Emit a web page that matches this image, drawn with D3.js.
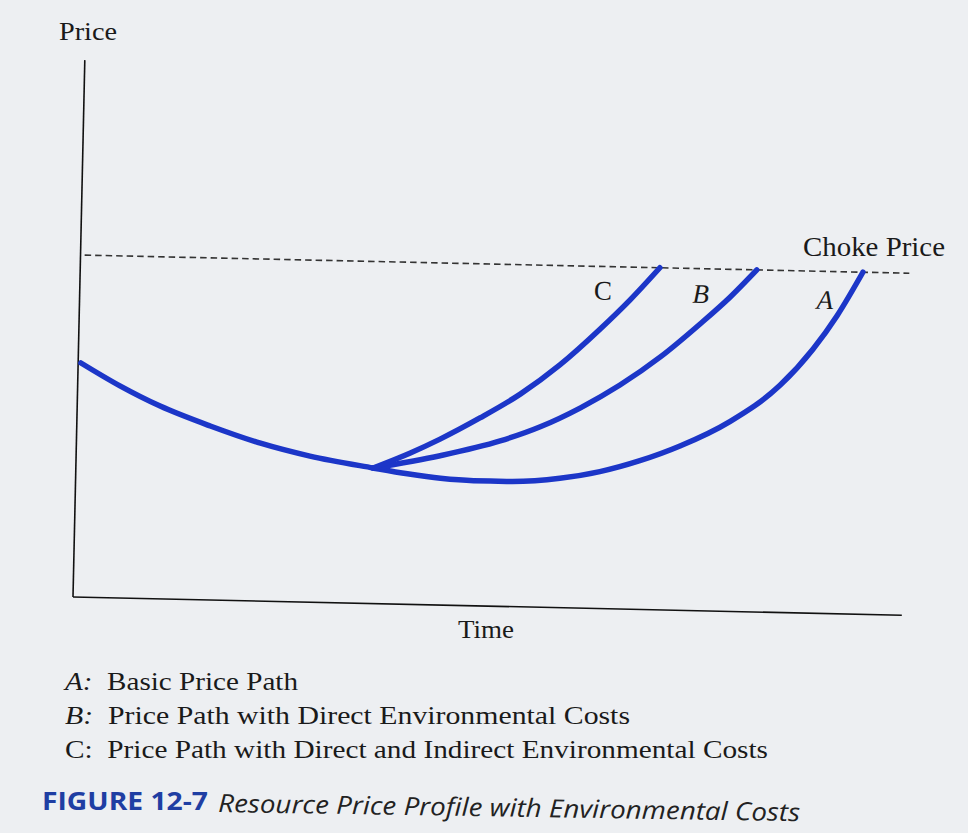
<!DOCTYPE html>
<html lang="en">
<head>
  <meta charset="UTF-8" />
  <title>Resource Price Profile with Environmental Costs</title>
  <script src="https://d3js.org/d3.v7.min.js"></script>
  <style>
    body{margin:0;background:#eceef1}
    svg{display:block}
    .serif{font-family:"Liberation Serif","DejaVu Serif",serif;fill:#1a1a1a}
    .caption{font-family:"Open Sans","Noto Sans",sans-serif}
  </style>
</head>
<body>
  <div id="chart"></div>

  <script>
    // shared segment before the paths split, [time, price]
    const commonPath = [[0.34, 43.6], [5.1, 39.5], [10, 35.9], [16.1, 32.4], [22.2, 29.4], [28.2, 27.2], [35.85, 25.25]];
    const pathA = [[35.85, 25.25], [40, 24.3], [44, 23.6], [48, 23.3], [52, 23.3], [58.4, 24.1], [63.2, 25.5], [68, 27.7], [72.8, 30.6], [78.8, 35.4], [84.7, 42.3], [88.6, 49.2], [91.4, 55.5], [94.4, 63.7]];
    const pathB = [[35.85, 25.25], [43.9, 27.8], [51.1, 30.8], [55.9, 33.6], [60.7, 37.3], [65.4, 41.7], [70.2, 47.1], [74.9, 53.4], [78.5, 58.6], [81.6, 63.7]];
    const pathC = [[35.85, 25.25], [40.3, 28.2], [43.85, 30.9], [48.6, 35], [53.4, 39.6], [58.1, 45.2], [62.9, 52.1], [66.4, 57.6], [69.9, 63.7]];
    const chokePrice = 63.7;

    const curveLabels = [
      {text: "C", t: 63.1, p: 57.5, italic: false},
      {text: "B", t: 74.9, p: 57.3, italic: true},
      {text: "A", t: 89.9, p: 56.7, italic: true}
    ];
    const legendKeys = ["A", "B", "C"];
    const legendTexts = [
      "Basic Price Path",
      "Price Path with Direct Environmental Costs",
      "Price Path with Direct and Indirect Environmental Costs"
    ];

    const W = 968, H = 833;
    const BLUE = "#1c36c8";
    const TILT = 1.26; // the scanned page is a bit rotated

    const svg = d3.select("#chart").append("svg").attr("width", W).attr("height", H);
    svg.append("rect").attr("width", W).attr("height", H).attr("fill", "#edeff2");

    const g = svg.append("g").attr("transform", `translate(73,597) rotate(${TILT})`);
    const x = d3.scaleLinear().domain([0, 100]).range([0, 829]);
    const y = d3.scaleLinear().domain([0, 100]).range([0, -537]);

    // axes
    g.append("line").attr("x1", x(0)).attr("y1", y(0)).attr("x2", x(100)).attr("y2", y(0))
      .attr("stroke", "#111").attr("stroke-width", 1.6);
    g.append("line").attr("x1", x(0)).attr("y1", y(0)).attr("x2", x(0)).attr("y2", y(100))
      .attr("stroke", "#111").attr("stroke-width", 1.6);

    // choke price
    g.append("line").attr("x1", x(0.5)).attr("y1", y(chokePrice)).attr("x2", x(100)).attr("y2", y(chokePrice))
      .attr("stroke", "#333").attr("stroke-width", 1.6).attr("stroke-dasharray", "6.5,4");

    const line = d3.line().x(d => x(d[0])).y(d => y(d[1])).curve(d3.curveMonotoneX);
    const series = [commonPath.concat(pathA.slice(1)), pathB, pathC];
    g.selectAll(".path").data(series).enter().append("path")
      .attr("class", "path")
      .attr("d", line)
      .attr("fill", "none").attr("stroke", BLUE).attr("stroke-width", 5.5)
      .attr("stroke-linecap", "round").attr("stroke-linejoin", "round");

    g.selectAll(".clab").data(curveLabels).enter().append("text")
      .attr("class", "clab serif")
      .attr("x", d => x(d.t)).attr("y", d => y(d.p))
      .attr("text-anchor", "middle")
      .style("font-size", "27px")
      .style("font-style", d => d.italic ? "italic" : "normal")
      .text(d => d.text);

    // axis titles
    svg.append("text").attr("class", "serif").attr("x", 59).attr("y", 40)
      .attr("textLength", 58).attr("lengthAdjust", "spacingAndGlyphs")
      .style("font-size", "26px").text("Price");
    svg.append("text").attr("class", "serif").attr("x", 458).attr("y", 638)
      .attr("textLength", 56).attr("lengthAdjust", "spacingAndGlyphs")
      .style("font-size", "26px").text("Time");
    svg.append("text").attr("class", "serif").attr("x", 803).attr("y", 256)
      .attr("textLength", 142).attr("lengthAdjust", "spacingAndGlyphs")
      .style("font-size", "27px").text("Choke Price");

    // legend
    const legendWidths = [233, 565, 703];
    const leg = svg.append("g");
    legendTexts.forEach((t, i) => {
      const row = leg.append("text").attr("class", "serif")
        .attr("x", 65).attr("y", 690 + i * 34)
        .attr("textLength", legendWidths[i]).attr("lengthAdjust", "spacingAndGlyphs")
        .style("font-size", "26px");
      row.append("tspan").style("font-style", i < 2 ? "italic" : "normal").text(legendKeys[i] + ":");
      row.append("tspan").text("\u00a0 " + t);
    });

    // caption
    svg.append("text").attr("class", "caption").attr("x", 42).attr("y", 810)
      .attr("textLength", 166).attr("lengthAdjust", "spacingAndGlyphs")
      .style("font-size", "25px").style("font-weight", 700).attr("fill", "#1f3ea3")
      .text("FIGURE 12-7");
    svg.append("text").attr("class", "caption").attr("x", 218).attr("y", 812)
      .attr("transform", "rotate(0.9,218,812)")
      .attr("textLength", 582).attr("lengthAdjust", "spacingAndGlyphs")
      .style("font-size", "25px").style("font-style", "italic").attr("fill", "#222")
      .text("Resource Price Profile with Environmental Costs");
  </script>
</body>
</html>
